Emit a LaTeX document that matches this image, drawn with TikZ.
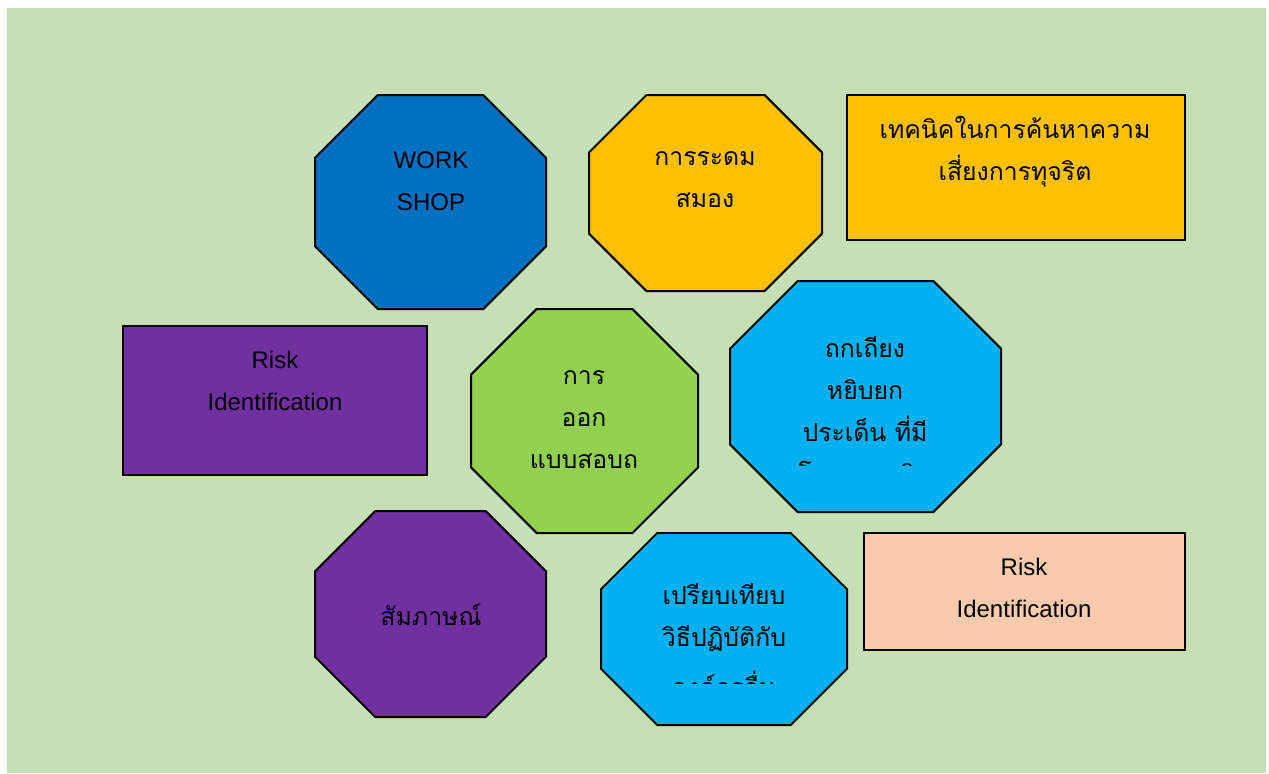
\documentclass[tikz,border=0pt]{standalone}
\usepackage{fontspec}
\setmainfont{Liberation Sans}
\newfontfamily\thaifont[Script=Thai]{Loma}
\definecolor{bgGreen}{HTML}{C5E0B4}
\definecolor{darkBlue}{HTML}{0070C0}
\definecolor{gold}{HTML}{FFC000}
\definecolor{plum}{HTML}{7030A0}
\definecolor{leafGreen}{HTML}{92D050}
\definecolor{skyBlue}{HTML}{00B0F0}
\definecolor{peach}{HTML}{F8CBAD}

% octagon with cut corners: x1, y1, x2, y2, fill
\newcommand{\octagon}[5]{%
  \pgfmathsetmacro\cut{0.2929*min(#3-#1,#4-#2)}
  \draw[fill=#5,line width=1pt] (#1+\cut,#2) -- (#3-\cut,#2) -- (#3,#2+\cut) -- (#3,#4-\cut)
    -- (#3-\cut,#4) -- (#1+\cut,#4) -- (#1,#4-\cut) -- (#1,#2+\cut) -- cycle;
}

\tikzset{
  boxtext/.style={align=center,inner sep=0pt,font=\fontsize{12}{21}\selectfont},
  thaitext/.style={align=center,inner sep=0pt,font=\thaifont\fontsize{12.4}{21}\selectfont},
  rectbox/.style={draw,line width=1pt}
}

\begin{document}
\begin{tikzpicture}[x=0.5pt,y=-0.5pt]
  \useasboundingbox (0,0) rectangle (1269,773);
  \fill[bgGreen] (7,8) rectangle (1266,773);

  % Top row
  \octagon{315}{95}{546}{309}{darkBlue}
  \node[boxtext] (workshop) at (431,181) {WORK\\SHOP};

  \octagon{589}{95}{822}{291}{gold}
  \node[thaitext] (brainstorm) at (705,180) {การระดม\\สมอง};

  \draw[rectbox,fill=gold] (847,95) rectangle (1185,240);
  \node[thaitext] (technique) at (1015,152) {เทคนิคในการค้นหาความ\\เสี่ยงการทุจริต};

  % Middle row
  \draw[rectbox,fill=plum] (123,326) rectangle (427,475);
  \node[boxtext] (riskleft) at (275,381) {Risk\\Identification};

  \octagon{471}{309}{698}{533}{leafGreen}
  \node[thaitext] (survey) at (584,420) {การ\\ออก\\แบบสอบถ};

  \octagon{730}{281}{1001}{512}{skyBlue}
  \begin{scope}
    \clip (730,281) rectangle (1001,465);
    \node[thaitext] (debate) at (865,413) {ถกเถียง\\หยิบยก\\ประเด็น ที่มี\\โอกาสทุจริต};
  \end{scope}

  % Bottom row
  \octagon{315}{511}{546}{717}{plum}
  \node[thaitext] (interview) at (431,615) {สัมภาษณ์};

  \octagon{601}{533}{847}{725}{skyBlue}
  \begin{scope}
    \clip (601,533) rectangle (847,683);
    \node[thaitext] (compare) at (724,640) {เปรียบเทียบ\\วิธีปฏิบัติกับ\\[4pt]องค์กรอื่น};
  \end{scope}

  \draw[rectbox,fill=peach] (864,533) rectangle (1185,650);
  \node[boxtext] (riskright) at (1024,588) {Risk\\Identification};

\end{tikzpicture}
\end{document}
